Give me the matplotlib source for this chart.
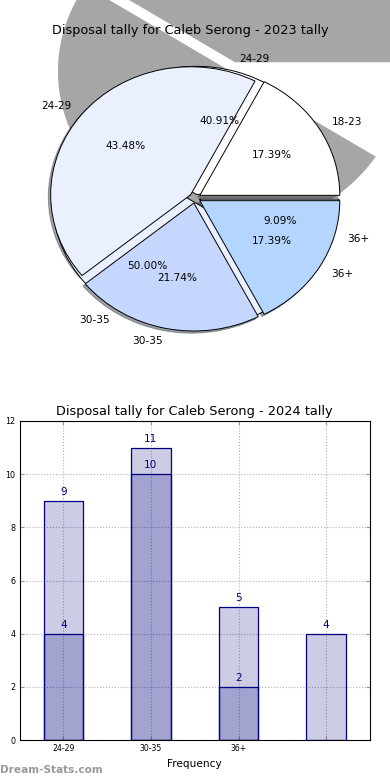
import numpy as np
import matplotlib
matplotlib.use("Agg")
import matplotlib.pyplot as plt

# 2023 pie
labels_2023 = ["18-23", "24-29", "30-35", "36+"]
tally_2023 = [4, 10, 5, 4]
# 2024 pie
labels_2024 = ["24-29", "30-35", "36+"]
tally_2024 = [9, 11, 2]
# bar chart
bar_cats = ["24-29", "30-35", "36+", ""]
bar_back = [9, 11, 5, 4]
bar_front = [4, 10, 2]

fig = plt.figure(figsize=(3.9, 7.8), dpi=100)

# ---- pie chart ----
ax1 = fig.add_axes([10/390, 420/780, 360/390, 320/780])
pie_font = 7.6
sx, sy = 140.0, 128.0   # pixels per data unit
cx, cy = 195.0, 198.0   # pie centre in pixels

# stray grey shadow from the 2024 pie
ax1.pie(tally_2024, colors=["#a6a6a6", "#a6a6a6", "none"], center=(0.275, 1.023),
        radius=1.233, explode=[0.039]*3, startangle=0,
        wedgeprops={"linewidth": 0, "zorder": 0.2})

ax1.pie(tally_2024, labels=labels_2024, autopct="%.2f%%",
        colors=["#ffffff", "#eaf0fe", "#c5d7fe"], explode=[0.03]*3, startangle=0,
        wedgeprops={"edgecolor": "black", "linewidth": 0.7, "zorder": 0.95},
        textprops={"fontsize": pie_font})

ax1.pie(tally_2023, labels=labels_2023, autopct="%.2f%%",
        colors=["#ffffff", "#eaf0fe", "#c5d7fe", "#b4d5fe"], explode=[0.04]*4,
        startangle=0, shadow={"ox": -0.012, "oy": -0.012, "zorder": 0.9},
        wedgeprops={"edgecolor": "black", "linewidth": 0.7},
        textprops={"fontsize": pie_font})

ax1.set_aspect("auto")
ax1.set_xlim((10 - cx)/sx, (370 - cx)/sx)
ax1.set_ylim((cy - 360)/sy, (cy - 40)/sy)
ax1.set_title("Disposal tally for Caleb Serong - 2023 tally", fontsize=9.3, pad=4)

# ---- bar chart ----
ax2 = fig.add_axes([19.5/390, 40/780, 350.5/390, 319/780])
x = np.arange(len(bar_cats))
xf = np.arange(len(bar_front))
bw = 0.45
fc = (0, 0, 0.5, 0.2)
b1 = ax2.bar(x, bar_back, bw, facecolor=fc, edgecolor="navy", linewidth=0.9, zorder=2)
b2 = ax2.bar(xf, bar_front, bw, facecolor=fc, edgecolor="navy", linewidth=0.9, zorder=2)
for rect, v in zip(b1, bar_back):
    ax2.text(rect.get_x() + rect.get_width()/2, v + 0.15, str(v), ha="center",
             va="bottom", color="navy", fontsize=7.6)
for rect, v in zip(b2, bar_front):
    ax2.text(rect.get_x() + rect.get_width()/2, v + 0.15, str(v), ha="center",
             va="bottom", color="navy", fontsize=7.6)

ax2.set_xlim(-0.5, 3.5)
ax2.set_ylim(0, 12)
ax2.set_yticks(range(0, 13, 2))
ax2.set_xticks(x)
ax2.set_xticklabels(bar_cats, fontsize=5.6)
ax2.tick_params(axis="y", labelsize=5.8)
ax2.tick_params(direction="in", length=3, color="#999999", top=True, right=True, pad=3)
ax2.grid(True, linestyle=":", color="#b0b0b0", linewidth=0.8, zorder=0)
ax2.set_axisbelow(True)
ax2.set_xlabel("Frequency", fontsize=7.6, labelpad=4)
ax2.set_ylabel("Disposal Tally", fontsize=7.6)
ax2.yaxis.set_label_coords(-0.065, 0.5)
ax2.set_title("Disposal tally for Caleb Serong - 2024 tally", fontsize=9.3, pad=4)

fig.text(0.0, 0.006, "Dream-Stats.com", fontsize=7.6, color="#999999",
         fontweight="bold", ha="left", va="bottom")

fig.savefig("out.png", dpi=100)
